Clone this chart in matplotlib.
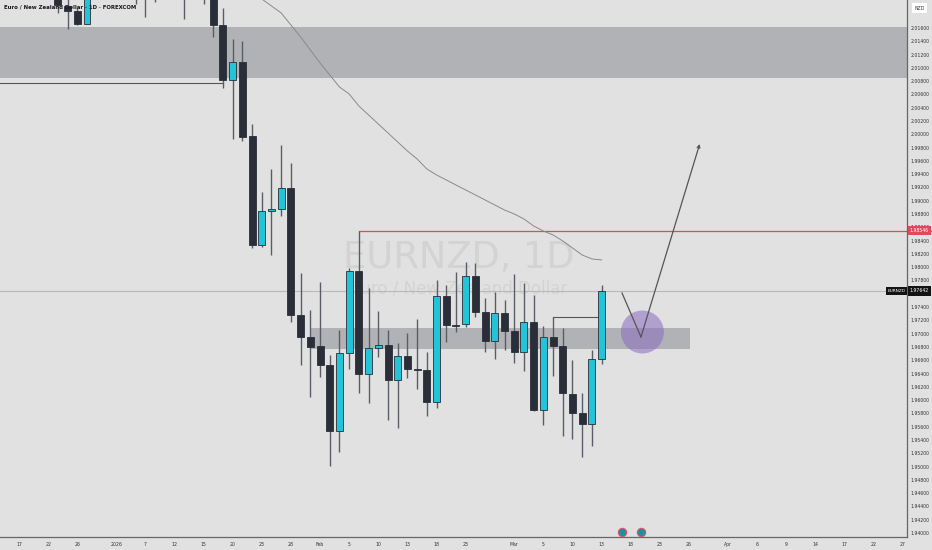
import numpy as np
import matplotlib.pyplot as plt
from matplotlib.patches import Rectangle, Ellipse
import matplotlib.transforms as mtransforms

# daily candles, bar index 4 = Dec 23 (bar 0 = Dec 17, weekdays only)
first_bar = 4
opens = [2.02350, 2.01931, 2.01855, 2.01660, 2.02470, 2.02620, 2.02550, 2.02680,
         2.02580, 2.02450, 2.02620, 2.02500, 2.02650, 2.02550, 2.02400, 2.02500,
         2.02380, 2.01645, 2.00817, 2.01088, 1.99974, 1.98334, 1.98846, 1.98876,
         1.99192, 1.97281, 1.96950, 1.96814, 1.96528, 1.95535, 1.96709, 1.97943,
         1.96393, 1.96784, 1.96829, 1.96302, 1.96664, 1.96468, 1.96453, 1.95971,
         1.97567, 1.97130, 1.97145, 1.97868, 1.97326, 1.96890, 1.97311, 1.97040,
         1.96724, 1.97175, 1.95851, 1.96950, 1.96814, 1.96092, 1.95806, 1.95640,
         1.96619]
highs = [2.02450, 2.02172, 2.01901, 2.02623, 2.02750, 2.02700, 2.02800, 2.02850,
         2.02750, 2.02780, 2.02700, 2.02750, 2.02720, 2.02680, 2.02620, 2.02600,
         2.02450, 2.01901, 2.01434, 2.01404, 2.00155, 1.99132, 1.99478, 1.99839,
         1.99568, 1.97913, 1.97356, 1.97778, 1.96679, 1.97055, 1.97988, 1.98546,
         1.97687, 1.97341, 1.97055, 1.96859, 1.97010, 1.97221, 1.96724, 1.97808,
         1.97732, 1.97928, 1.98078, 1.98063, 1.97537, 1.97627, 1.97506, 1.97898,
         1.97762, 1.97582, 1.97115, 1.97251, 1.97085, 1.96604, 1.96107, 1.96754,
         1.97732]
lows = [2.01825, 2.01585, 2.01645, 2.01660, 2.02380, 2.02400, 2.02320, 2.02400,
        2.01961, 2.01765, 2.01991, 2.02250, 2.02300, 2.01735, 2.02150, 2.01961,
        2.01464, 2.00697, 1.99929, 1.99899, 1.98289, 1.98304, 1.98184, 1.98771,
        1.97175, 1.96528, 1.96047, 1.96348, 1.95008, 1.95219, 1.96468, 1.96107,
        1.95956, 1.96649, 1.95700, 1.95580, 1.96333, 1.96167, 1.95760, 1.95881,
        1.96875, 1.97025, 1.97100, 1.97251, 1.96724, 1.96619, 1.96754, 1.96558,
        1.96438, 1.95836, 1.95625, 1.96363, 1.95460, 1.95415, 1.95144, 1.95309,
        1.96543]
closes = [2.01946, 2.01855, 2.01660, 2.02473, 2.02620, 2.02550, 2.02680, 2.02580,
          2.02450, 2.02620, 2.02500, 2.02650, 2.02550, 2.02400, 2.02500, 2.02380,
          2.01645, 2.00817, 2.01088, 1.99959, 1.98334, 1.98846, 1.98876, 1.99192,
          1.97281, 1.96950, 1.96799, 1.96528, 1.95535, 1.96709, 1.97943, 1.96393,
          1.96784, 1.96829, 1.96302, 1.96664, 1.96468, 1.96453, 1.95971, 1.97567,
          1.97130, 1.97122, 1.97868, 1.97326, 1.96890, 1.97311, 1.97040, 1.96724,
          1.97175, 1.95851, 1.96950, 1.96814, 1.96107, 1.95806, 1.95640, 1.96619,
          1.97642]

# moving average, bars 24..60
ma_first_bar = 24
ma_values = [2.02140, 2.02036, 2.01931, 2.01826, 2.01645, 2.01465, 2.01269, 2.01073,
             2.00893, 2.00712, 2.00607, 2.00426, 2.00291, 2.00155, 2.00020, 1.99884,
             1.99749, 1.99629, 1.99478, 1.99388, 1.99313, 1.99237, 1.99162, 1.99087,
             1.99012, 1.98936, 1.98861, 1.98801, 1.98726, 1.98620, 1.98545, 1.98485,
             1.98395, 1.98289, 1.98184, 1.98124, 1.98109]

tick_bars = [0, 3, 6, 10, 13, 16, 19, 22, 25, 28, 31, 34, 37, 40, 43, 46, 51, 54,
             57, 60, 63, 66, 69, 73, 76, 79, 82, 85, 88, 91]
tick_labels = ["17", "22", "26", "2026", "7", "12", "15", "20", "23", "28", "Feb",
               "5", "10", "13", "18", "23", "Mar", "5", "10", "13", "18", "23", "26",
               "Apr", "6", "9", "14", "17", "22", "27"]

top_zone = (2.00847, 2.01615)
low_zone = (1.96769, 1.97085)
low_zone_bars = (30, 69.1)
resistance = 1.98546
resistance_bar = 35
last_price = 1.97642
old_low_line = 2.00775
hook_level = 1.97251
hook_bars = (55, 59.7)
path_bars = [62.1, 64.05, 70.1]
path_prices = [1.97612, 1.96950, 1.99854]
event_bars = [62.1, 64.05]

bg = "#e1e1e1"
up_col = "#24c4d8"
down_col = "#2a2e39"
wick_col = "#5a5d66"

fig = plt.figure(figsize=(9.32, 5.5), dpi=100)
fig.patch.set_facecolor(bg)
ax = fig.add_axes([0, 13 / 550, 907 / 932, 537 / 550])
ax.set_facecolor(bg)
ax.set_xlim(-1.96, 91.45)
ax.set_ylim(1.9394, 2.02021)

# watermark
ax.text(45.3, 1.98140, "EURNZD, 1D", ha="center", va="center", fontsize=26.5,
        color="#d3d3d3", zorder=0)
ax.text(45.3, 1.97680, "Euro / New Zealand Dollar", ha="center", va="center",
        fontsize=12, color="#d3d3d3", zorder=0)

# zones
ax.axhspan(top_zone[0], top_zone[1], color="#b1b2b5", lw=0, zorder=1)
ax.add_patch(Rectangle((low_zone_bars[0], low_zone[0]), low_zone_bars[1] - low_zone_bars[0],
                       low_zone[1] - low_zone[0], facecolor="#b1b2b5", lw=0, zorder=1))

# lines
ax.axhline(last_price, color="#b9b9b9", lw=0.8, zorder=1)
ax.plot([-2, 21], [old_low_line, old_low_line], color="#555555", lw=0.8, zorder=2)
ax.plot([resistance_bar, 95], [resistance, resistance], color="#e2475a", lw=0.9,
        zorder=2, clip_on=False)
ax.plot(hook_bars, [hook_level, hook_level], color="#555555", lw=0.8, zorder=2)

ma_x = np.arange(ma_first_bar, ma_first_bar + len(ma_values))
ax.plot(ma_x, ma_values, color="#8a8a8a", lw=0.7, zorder=2)

# candles
bars = np.arange(first_bar, first_bar + len(opens))
for x, o, h, l, c in zip(bars, opens, highs, lows, closes):
    col = up_col if c > o else down_col
    ax.vlines(x, l, h, color=wick_col, lw=1, zorder=3)
    bottom = min(o, c)
    height = max(abs(c - o), 0.00008)
    ax.bar(x, height, bottom=bottom, width=0.72, color=col, edgecolor=down_col,
           linewidth=0.6, zorder=4)

# projection path and circle
ax.add_patch(Ellipse((64.2, 1.97025), 4.43, 0.00647, facecolor="#8a6cc0",
                     alpha=0.55, lw=0, zorder=5))
ax.plot(path_bars[:2], path_prices[:2], color="#555555", lw=0.9, zorder=6)
ax.annotate("", xy=(path_bars[2], path_prices[2]), xytext=(path_bars[1], path_prices[1]),
            arrowprops=dict(arrowstyle="->", color="#555555", lw=0.9,
                            mutation_scale=5, shrinkA=0, shrinkB=0), zorder=6)

# event icons
trans = mtransforms.blended_transform_factory(ax.transData, ax.transAxes)
ax.plot(event_bars, [0.0095] * len(event_bars), "o", transform=trans, ms=6,
        color="#1f8fa0", markeredgecolor="#e05566", markeredgewidth=0.8,
        clip_on=False, zorder=6)

# title
ax.text(0.004, 0.987, "Euro / New Zealand Dollar \u00b7 1D \u00b7 FOREXCOM",
        transform=ax.transAxes, ha="left", va="center", fontsize=3.9,
        color="#1a1a1a", fontweight="semibold", zorder=7)

# axes
for s in ["top", "left"]:
    ax.spines[s].set_visible(False)
for s in ["bottom", "right"]:
    ax.spines[s].set_color("#666666")
    ax.spines[s].set_linewidth(0.9)

ax.yaxis.tick_right()
yt = np.arange(1.940, 2.0165, 0.002)
ax.set_yticks(yt)
ax.set_yticklabels(["%.5f" % v for v in yt])
ax.tick_params(axis="y", length=0, pad=2.8, labelsize=3.3, labelcolor="#333333")
ax.set_xticks(tick_bars)
ax.set_xticklabels(tick_labels)
ax.tick_params(axis="x", length=0, pad=3.6, labelsize=3.3, labelcolor="#333333")

# right side labels
ytr = ax.get_yaxis_transform()
ax.text(919.5 / 907, resistance, "1.98546", transform=ytr, ha="center", va="center",
        fontsize=3.3, color="white", clip_on=False, zorder=8,
        bbox=dict(boxstyle="square,pad=0.45", fc="#e2475a", ec="none"))
ax.text(919.5 / 907, last_price, "1.97642", transform=ytr, ha="center", va="center",
        fontsize=3.3, color="white", clip_on=False, zorder=8,
        bbox=dict(boxstyle="square,pad=0.45", fc="#131313", ec="none"))
ax.text(896.5 / 907, last_price, "EURNZD", transform=ytr, ha="center", va="center",
        fontsize=3.1, color="white", clip_on=False, zorder=8,
        bbox=dict(boxstyle="square,pad=0.45", fc="#131313", ec="none"))
ax.text(919.5 / 907, 0.985, "NZD", transform=ax.transAxes, ha="center", va="center",
        fontsize=3.3, color="#333333", clip_on=False, zorder=8,
        bbox=dict(boxstyle="square,pad=0.6", fc="white", ec="none"))

fig.savefig("out.png", dpi=100, facecolor=bg)
